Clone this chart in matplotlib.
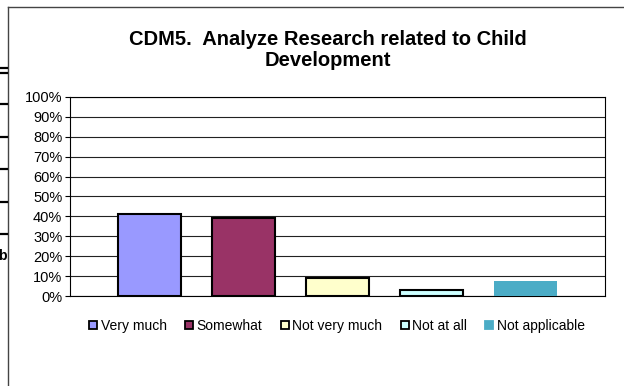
import matplotlib
matplotlib.use("Agg")
import matplotlib.pyplot as plt
from matplotlib.lines import Line2D
from matplotlib.ticker import MultipleLocator, PercentFormatter

plt.rcParams['font.family'] = ['Liberation Sans', 'DejaVu Sans']

categories = ["Very much", "Somewhat", "Not very much", "Not at all", "Not applicable"]
values = [41, 39, 9, 3, 7.5]
colors = ["#9999FF", "#993366", "#FFFFCC", "#CCFFFF", "#4BACC6"]
edges = ["black", "black", "black", "black", "none"]
title = "CDM5.  Analyze Research related to Child\nDevelopment"

W, H = 624, 386
fig = plt.figure(figsize=(W / 100, H / 100), dpi=100)
ax = fig.add_axes([70 / W, 1 - 296 / H, (605 - 70) / W, (296 - 97) / H])

# one bar per series, like the Excel clustered chart with a single category
for i, (name, v) in enumerate(zip(categories, values)):
    ax.bar(i, v, width=0.67, color=colors[i], edgecolor=edges[i],
           linewidth=1.5, label=name, zorder=3)

ax.set_xlim(-0.846, 4.846)
ax.set_ylim(0, 100)
ax.yaxis.set_major_locator(MultipleLocator(10))
ax.yaxis.set_major_formatter(PercentFormatter(decimals=0))
ax.set_xticks([])
ax.tick_params(axis='y', direction='out', length=3.5, width=0.8, labelsize=10.5, pad=2)
ax.grid(axis='y', color='#222222', linewidth=0.8, zorder=0)
for s in ax.spines.values():
    s.set_color('black')
    s.set_linewidth(0.8)

# legend with small square markers
handles = [Line2D([], [], linestyle='none', marker='s', markersize=5.5,
                  markerfacecolor=c, markeredgecolor=('black' if e != 'none' else c),
                  markeredgewidth=1.3)
           for c, e in zip(colors, edges)]
fig.legend(handles, categories, loc='center', bbox_to_anchor=(337 / W, 1 - 326 / H),
           ncol=5, frameon=False, fontsize=10, handlelength=0.6,
           handletextpad=0.25, columnspacing=1.3)

fig.text(328 / W, 1 - 50 / H, title, ha='center', va='center', fontsize=14.5,
         fontweight='bold', linespacing=1.15)

# chart-area border (left and top edges only are visible)
fig.add_artist(Line2D([8 / W, 8 / W], [0, 1 - 7 / H], color='#444444', lw=1))
fig.add_artist(Line2D([8 / W, 1], [1 - 7 / H, 1 - 7 / H], color='#444444', lw=1))

# stray marks of the neighbouring chart at the left edge
for y in [68, 72.5, 104, 137, 169, 202, 234]:
    fig.add_artist(Line2D([0, 7 / W], [1 - y / H, 1 - y / H], color='black', lw=1.6))
fig.text(7 / W, 1 - 256 / H, "b", ha='right', va='center', fontsize=10, fontweight='bold')

fig.savefig("out.png", dpi=100)
